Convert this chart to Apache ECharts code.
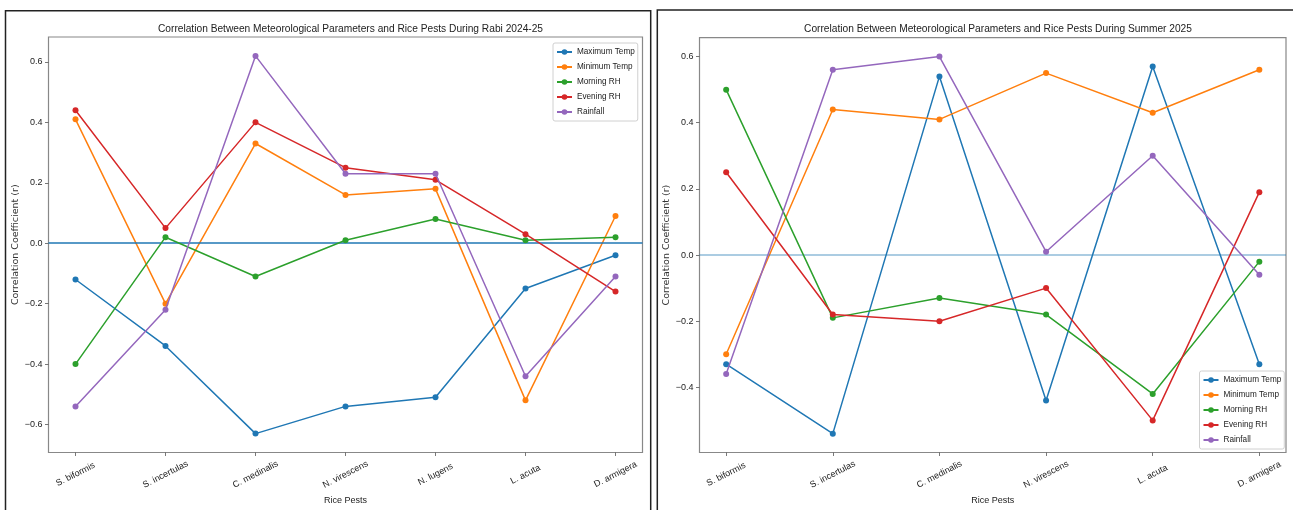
<!DOCTYPE html>
<html>
<head>
<meta charset="utf-8">
<script src="https://cdn.jsdelivr.net/npm/echarts@6/dist/echarts.min.js"></script>
<style>
html,body{margin:0;padding:0;background:#fff;}
#c{width:1293px;height:510px;}
</style>
</head>
<body>
<div id="c"></div>
<script>
// ---- Data ----
const paramNames = ['Maximum Temp', 'Minimum Temp', 'Morning RH', 'Evening RH', 'Rainfall'];
const colors = ['#1f77b4', '#ff7f0e', '#2ca02c', '#d62728', '#9467bd'];

const rabiTitle = 'Correlation Between Meteorological Parameters and Rice Pests During Rabi 2024-25';
const rabiPests = ['S. biformis', 'S. incertulas', 'C. medinalis', 'N. virescens', 'N. lugens', 'L. acuta', 'D. armigera'];
const rabiMaxTemp  = [-0.12, -0.34, -0.63, -0.54, -0.51, -0.15, -0.04];
const rabiMinTemp  = [0.41, -0.20, 0.33, 0.16, 0.18, -0.52, 0.09];
const rabiMornRH   = [-0.40, 0.02, -0.11, 0.01, 0.08, 0.01, 0.02];
const rabiEveRH    = [0.44, 0.05, 0.40, 0.25, 0.21, 0.03, -0.16];
const rabiRainfall = [-0.54, -0.22, 0.62, 0.23, 0.23, -0.44, -0.11];

const sumTitle = 'Correlation Between Meteorological Parameters and Rice Pests During Summer 2025';
const sumPests = ['S. biformis', 'S. incertulas', 'C. medinalis', 'N. virescens', 'L. acuta', 'D. armigera'];
const sumMaxTemp  = [-0.33, -0.54, 0.54, -0.44, 0.57, -0.33];
const sumMinTemp  = [-0.30, 0.44, 0.41, 0.55, 0.43, 0.56];
const sumMornRH   = [0.50, -0.19, -0.13, -0.18, -0.42, -0.02];
const sumEveRH    = [0.25, -0.18, -0.20, -0.10, -0.50, 0.19];
const sumRainfall = [-0.36, 0.56, 0.60, 0.01, 0.30, -0.06];

const yTicks = [-0.6, -0.4, -0.2, 0.0, 0.2, 0.4, 0.6];
const yTicksRight = [-0.4, -0.2, 0.0, 0.2, 0.4, 0.6];
const xLabelName = 'Rice Pests';
const yLabelName = 'Correlation Coefficient (r)';

// ---- Helpers ----
const SANS = "'Liberation Sans', Arial, sans-serif";
const fmtY = v => (Math.abs(v) < 1e-9 ? '0.0' : (v < 0 ? '\u2212' : '') + Math.abs(v).toFixed(1));

function pad(values, frac) {
  const mn = Math.min(...values), mx = Math.max(...values);
  const r = mx - mn;
  return [mn - r * frac, mx + r * frac];
}

const rabiAll = [rabiMaxTemp, rabiMinTemp, rabiMornRH, rabiEveRH, rabiRainfall];
const sumAll = [sumMaxTemp, sumMinTemp, sumMornRH, sumEveRH, sumRainfall];
const rabiY = pad(rabiAll.flat(), 0.05);
const sumY = pad(sumAll.flat(), 0.05);

function xAxisFor(gridIndex, pests) {
  const n = pests.length - 1;
  const idx = pests.map((_, i) => i);
  return {
    type: 'value', gridIndex, min: -0.05 * n, max: n + 0.05 * n,
    name: xLabelName, nameLocation: 'middle', nameGap: 41,
    nameTextStyle: { fontFamily: SANS, fontSize: 9, color: '#222' },
    splitLine: { show: false },
    axisLine: { show: false, onZero: false },
    axisTick: { show: true, customValues: idx, length: 3.5, inside: false, lineStyle: { color: '#555', width: 0.8 } },
    axisLabel: {
      customValues: idx, rotate: 27, margin: 22, align: 'center', verticalAlign: 'middle',
      fontFamily: SANS, fontSize: 9, color: '#222',
      formatter: v => pests[Math.round(v)] || ''
    }
  };
}

function yAxisFor(gridIndex, range, ticks, gap) {
  return {
    type: 'value', gridIndex, min: range[0], max: range[1],
    name: yLabelName, nameLocation: 'middle', nameGap: gap, nameRotate: 90,
    nameTextStyle: { fontFamily: "'DejaVu Sans', sans-serif", fontSize: 9.5, color: '#333' },
    splitLine: { show: false },
    axisLine: { show: false, onZero: false },
    axisTick: { show: true, customValues: ticks, length: 3.5, lineStyle: { color: '#555', width: 0.8 } },
    axisLabel: { customValues: ticks, margin: 6, fontFamily: SANS, fontSize: 9, color: '#222', formatter: fmtY }
  };
}

const series = [];
function addSeries(all, axisIdx, zeroColor) {
  all.forEach((vals, k) => {
    series.push({
      type: 'line', name: paramNames[k], xAxisIndex: axisIdx, yAxisIndex: axisIdx,
      data: vals.map((v, i) => [i, v]),
      symbol: 'circle', symbolSize: 6, showSymbol: true,
      lineStyle: { color: colors[k], width: 1.5 },
      itemStyle: { color: colors[k] },
      emphasis: { disabled: true },
      z: 3 + k,
      markLine: k === all.length - 1 ? {
        silent: true, symbol: 'none', label: { show: false },
        lineStyle: { color: zeroColor, width: 1.5, type: 'solid' },
        data: [{ yAxis: 0 }], animation: false
      } : undefined
    });
  });
}
addSeries(rabiAll, 0, '#1f77b4');
addSeries(sumAll, 1, 'rgba(31,119,180,0.5)');

function legendFor(left, top) {
  return {
    left, top, orient: 'vertical',
    data: paramNames,
    itemWidth: 15, itemHeight: 7, itemGap: 3,
    padding: [3, 3, 3, 3],
    borderColor: '#d0d0d0', borderWidth: 1, borderRadius: 2,
    backgroundColor: 'rgba(255,255,255,0.8)',
    textStyle: { fontFamily: SANS, fontSize: 8.2, color: '#222', lineHeight: 12 },
    selectedMode: false
  };
}

const chart = echarts.init(document.getElementById('c'), null, { renderer: 'canvas' });
chart.setOption({
  animation: false,
  backgroundColor: '#fff',
  title: [
    { text: rabiTitle, left: 345.5, top: 19, textAlign: 'center',
      textStyle: { fontFamily: SANS, fontSize: 10.2, fontWeight: 'normal', color: '#222' } },
    { text: sumTitle, left: 993, top: 19, textAlign: 'center',
      textStyle: { fontFamily: SANS, fontSize: 10.2, fontWeight: 'normal', color: '#222' } }
  ],
  grid: [
    { left: 48.5, right: 1293 - 642.5, top: 37, bottom: 510 - 454.5, show: true, borderColor: '#888', borderWidth: 1.2, backgroundColor: 'transparent' },
    { left: 699.5, right: 1293 - 1286, top: 37.7, bottom: 510 - 454.2, show: true, borderColor: '#888', borderWidth: 1.2, backgroundColor: 'transparent' }
  ],
  xAxis: [xAxisFor(0, rabiPests), xAxisFor(1, sumPests)],
  yAxis: [yAxisFor(0, rabiY, yTicks, 27), yAxisFor(1, sumY, yTicksRight, 26)],
  legend: [legendFor(553, 43), legendFor(1199.5, 371)],
  graphic: [
    { type: 'rect', shape: { x: 5.5, y: 10.7, width: 645.2, height: 520 }, style: { fill: 'none', stroke: '#222', lineWidth: 1.5 }, silent: true },
    { type: 'rect', shape: { x: 657.3, y: 10, width: 660, height: 520 }, style: { fill: 'none', stroke: '#222', lineWidth: 1.5 }, silent: true }
  ],
  series
});
</script>
</body>
</html>
